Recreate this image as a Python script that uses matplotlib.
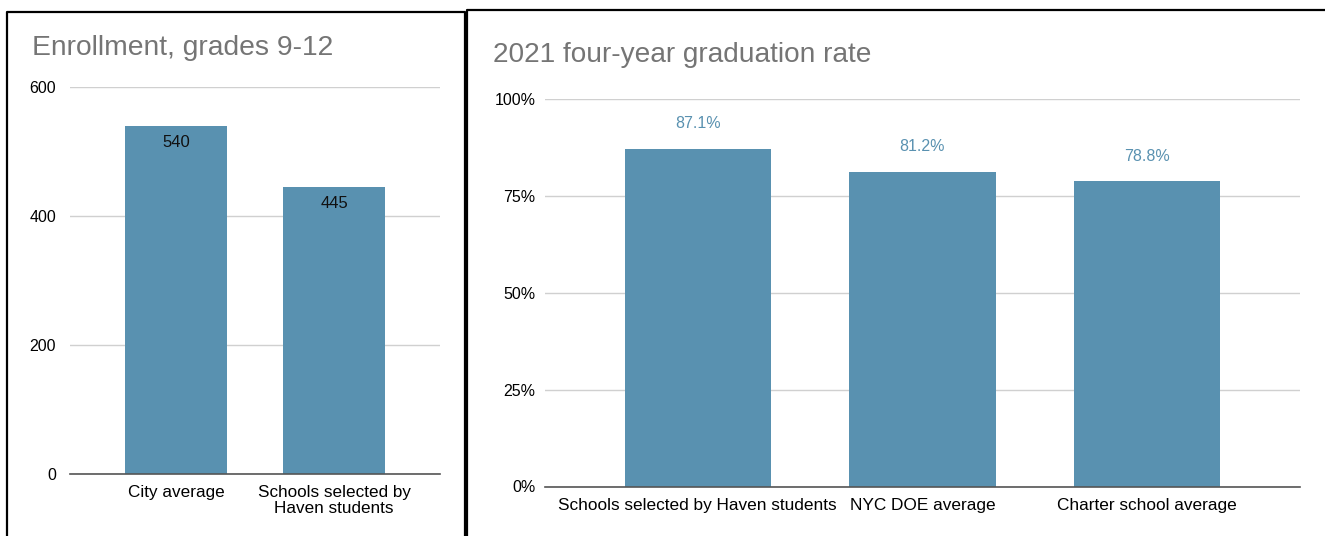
import matplotlib.pyplot as plt
from matplotlib.lines import Line2D
from matplotlib.ticker import FuncFormatter

plt.rcParams['font.family'] = ['Liberation Sans', 'DejaVu Sans']

# enrollment panel
enroll_cats = ["City average", "Schools selected by\nHaven students"]
enroll_vals = [540, 445]
enroll_ticks = [0, 200, 400, 600]

# graduation panel
grad_cats = ["Schools selected by Haven students", "NYC DOE average", "Charter school average"]
grad_vals = [87.1, 81.2, 78.8]
grad_ticks = [0, 25, 50, 75, 100]

BAR = '#5991b0'
GRID = '#d0d0d0'
TITLE = '#757575'

W, H = 1325, 536
fig = plt.figure(figsize=(W / 100, H / 100), dpi=100)


def px(x0, y0, x1, y1):
    # pixel box -> figure fraction rect
    return [x0 / W, 1 - y1 / H, (x1 - x0) / W, (y1 - y0) / H]


def style(ax, ticks):
    for s in ['top', 'right', 'left']:
        ax.spines[s].set_visible(False)
    ax.spines['bottom'].set_color('#555555')
    ax.spines['bottom'].set_linewidth(1.2)
    ax.set_yticks(ticks)
    ax.set_ylim(ticks[0], ticks[-1])
    ax.yaxis.grid(True, color=GRID, linewidth=1)
    ax.set_axisbelow(True)
    ax.tick_params(length=0)


# left chart
ax1 = fig.add_axes(px(70, 87, 440, 474))
ax1.bar(range(len(enroll_vals)), enroll_vals, width=0.65, color=BAR)
style(ax1, enroll_ticks)
ax1.set_xlim(-0.67, 1.67)
ax1.set_xticks(range(len(enroll_cats)))
ax1.set_xticklabels(enroll_cats, fontsize=12.3, linespacing=1.05)
ax1.tick_params(axis='y', labelsize=11.5, pad=10)
ax1.tick_params(axis='x', pad=8)
for i, v in enumerate(enroll_vals):
    ax1.annotate(str(v), (i, v), xytext=(0, -12), textcoords='offset points',
                 ha='center', va='center', fontsize=12, color='#111111')
fig.text(32 / W, 1 - 48 / H, "Enrollment, grades 9-12", fontsize=20.3,
         color=TITLE, va='center', ha='left')

# right chart
ax2 = fig.add_axes(px(545, 99, 1300, 486.5))
ax2.bar(range(len(grad_vals)), grad_vals, width=0.65, color=BAR)
style(ax2, grad_ticks)
ax2.set_xlim(-0.68, 2.68)
ax2.set_xticks(range(len(grad_cats)))
ax2.set_xticklabels(grad_cats, fontsize=12.4)
ax2.yaxis.set_major_formatter(FuncFormatter(lambda v, p: f"{v:.0f}%"))
ax2.tick_params(axis='y', labelsize=11.5, pad=7)
ax2.tick_params(axis='x', pad=8)
for i, v in enumerate(grad_vals):
    ax2.annotate(f"{v}%", (i, v), xytext=(0, 18), textcoords='offset points',
                 ha='center', va='center', fontsize=11.5, color=BAR)
fig.text(493 / W, 1 - 55 / H, "2021 four-year graduation rate", fontsize=20.2,
         color=TITLE, va='center', ha='left')

# panel borders
def fline(xs, ys):
    fig.add_artist(Line2D([x / W for x in xs], [1 - y / H for y in ys],
                          color='black', linewidth=1.6))

fline([7.5, 7.5, 464.5, 464.5], [H, 12, 12, H])
fline([467, 467, W], [H, 10, 10])

fig.savefig('out.png', dpi=100)
